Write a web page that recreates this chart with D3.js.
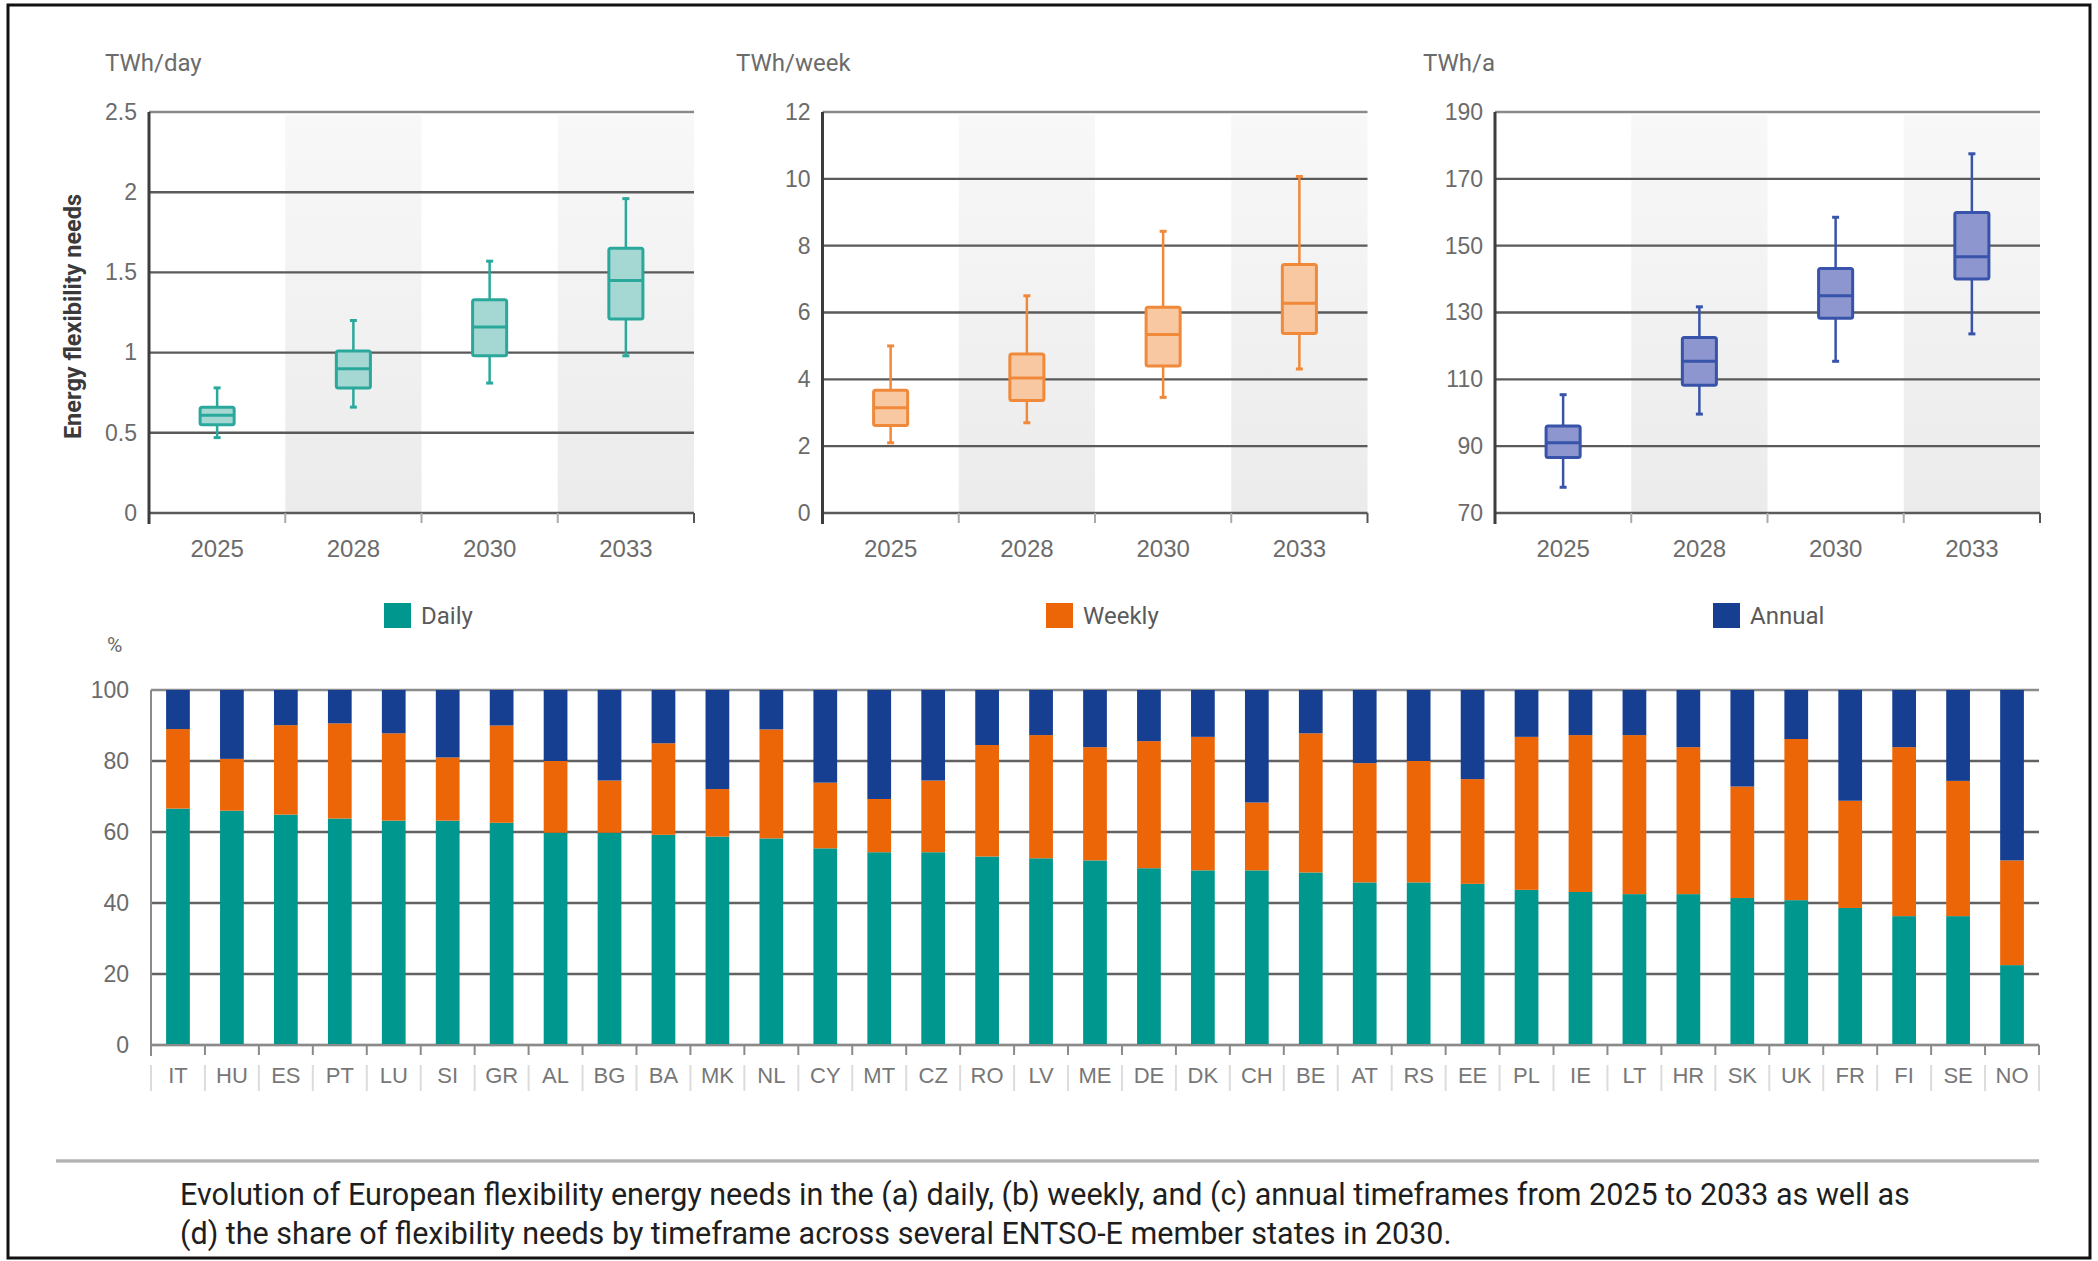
<!DOCTYPE html>
<html>
<head>
<meta charset="utf-8">
<script src="https://cdn.jsdelivr.net/npm/d3@7/dist/d3.min.js"></script>
<style>
  html, body { margin: 0; padding: 0; background: #fff; }
  svg { display: block; font-family: Roboto, "Noto Sans", sans-serif; }
</style>
</head>
<body>
<svg id="chart" width="2098" height="1261"></svg>
<script>
// ---- data -------------------------------------------------------------
const years = ["2025", "2028", "2030", "2033"];

// box statistics per year: [min, q1, median, q3, max]
const dailyStats = [
  [0.47, 0.55, 0.61, 0.66, 0.78],
  [0.66, 0.78, 0.90, 1.01, 1.20],
  [0.81, 0.98, 1.16, 1.33, 1.57],
  [0.98, 1.21, 1.45, 1.65, 1.96]
];
const weeklyStats = [
  [2.10, 2.62, 3.15, 3.67, 5.00],
  [2.70, 3.37, 4.04, 4.76, 6.50],
  [3.46, 4.40, 5.34, 6.16, 8.43],
  [4.31, 5.37, 6.28, 7.44, 10.07]
];
const annualStats = [
  [77.7, 86.6, 91.0, 96.0, 105.4],
  [99.6, 108.2, 115.4, 122.5, 131.7],
  [115.4, 128.3, 135.0, 143.2, 158.5],
  [123.6, 140.0, 146.7, 159.9, 177.5]
];

const dailyTicks = [0, 0.5, 1, 1.5, 2, 2.5];
const weeklyTicks = [0, 2, 4, 6, 8, 10, 12];
const annualTicks = [70, 90, 110, 130, 150, 170, 190];

const countries = ["IT","HU","ES","PT","LU","SI","GR","AL","BG","BA","MK","NL","CY","MT","CZ","RO","LV",
  "ME","DE","DK","CH","BE","AT","RS","EE","PL","IE","LT","HR","SK","UK","FR","FI","SE","NO"];
// share of flexibility needs by timeframe in 2030, %
const dailyShare  = [66.6,66.0,64.9,63.8,63.2,63.2,62.6,59.8,59.8,59.2,58.7,58.2,55.4,54.3,54.3,53.1,52.6,
  52.0,49.8,49.2,49.2,48.6,45.8,45.8,45.4,43.7,43.1,42.5,42.5,41.4,40.8,38.6,36.3,36.3,22.5];
const weeklyShare = [22.4,14.6,25.2,26.8,24.6,17.8,27.4,20.2,14.7,25.8,13.4,30.7,18.5,15.0,20.2,31.4,34.7,
  31.9,35.8,37.6,19.1,39.2,33.6,34.2,29.5,43.1,44.2,44.8,41.4,31.4,45.4,30.2,47.6,38.1,29.5];
const annualShare = [11.0,19.4,9.9,9.4,12.2,19.0,10.0,20.0,25.5,15.0,27.9,11.1,26.1,30.7,25.5,15.5,12.7,
  16.1,14.4,13.2,31.7,12.2,20.6,20.0,25.1,13.2,12.7,12.7,16.1,27.2,13.8,31.2,16.1,25.6,48.0];
const shareTicks = [0, 20, 40, 60, 80, 100];

const seriesNames = ["Daily", "Weekly", "Annual"];
const captionLines = [
  "Evolution of European flexibility energy needs in the (a) daily, (b) weekly, and (c) annual timeframes from 2025 to 2033 as well as",
  "(d) the share of flexibility needs by timeframe across several ENTSO-E member states in 2030."
];

// ---- styling ----------------------------------------------------------
const teal = "#00978f", orange = "#ec6608", navy = "#163f92";
const boxStyles = [
  { stroke: "#2ba89c", fill: "#a6d8d3" },
  { stroke: "#f0893a", fill: "#f8c8a2" },
  { stroke: "#3853aa", fill: "#8d96ce" }
];
const tickColor = "#6b6b6b";

const svg = d3.select("#chart");

// outer frame
svg.append("rect").attr("x", 8).attr("y", 5).attr("width", 2082).attr("height", 1253)
  .attr("fill", "#fff").attr("stroke", "#111").attr("stroke-width", 3);

const defs = svg.append("defs");
const grad = defs.append("linearGradient").attr("id", "bandShade")
  .attr("x1", 0).attr("y1", 0).attr("x2", 0).attr("y2", 1);
grad.append("stop").attr("offset", "0%").attr("stop-color", "#f8f8f8");
grad.append("stop").attr("offset", "100%").attr("stop-color", "#ebebeb");

const sepGrad = defs.append("linearGradient").attr("id", "sepShade")
  .attr("x1", 0).attr("y1", 0).attr("x2", 0).attr("y2", 1);
sepGrad.append("stop").attr("offset", "0%").attr("stop-color", "#d0d0d0");
sepGrad.append("stop").attr("offset", "50%").attr("stop-color", "#a8a8a8");
sepGrad.append("stop").attr("offset", "100%").attr("stop-color", "#d8d8d8");

// ---- box plot panels --------------------------------------------------
const panels = [
  { left: 149,   unit: "TWh/day",  unitX: 105,  stats: dailyStats,  ticks: dailyTicks,  fmt: d => String(d), style: boxStyles[0] },
  { left: 822.5, unit: "TWh/week", unitX: 736,  stats: weeklyStats, ticks: weeklyTicks, fmt: d => String(d), style: boxStyles[1] },
  { left: 1495,  unit: "TWh/a",    unitX: 1423, stats: annualStats, ticks: annualTicks, fmt: d => String(d), style: boxStyles[2] }
];
const panelW = 545, panelTop = 112, panelBottom = 513;

panels.forEach(p => {
  const g = svg.append("g").attr("transform", `translate(${p.left},0)`);
  const x = d3.scaleBand().domain(years).range([0, panelW]).padding(0);
  const y = d3.scaleLinear().domain(d3.extent(p.ticks)).range([panelBottom, panelTop]);

  // alternating shaded columns
  g.selectAll("rect.band").data(years.filter((d, i) => i % 2 === 1)).join("rect")
    .attr("class", "band")
    .attr("x", d => x(d)).attr("width", x.bandwidth())
    .attr("y", panelTop + 3).attr("height", panelBottom - panelTop - 3)
    .attr("fill", "url(#bandShade)");

  // horizontal grid
  g.selectAll("line.grid").data(p.ticks).join("line")
    .attr("class", "grid")
    .attr("x1", 0).attr("x2", panelW)
    .attr("y1", d => y(d)).attr("y2", d => y(d))
    .attr("stroke", (d, i) => i === p.ticks.length - 1 ? "#8a8a8a" : "#5a5a5a")
    .attr("stroke-width", 2.4);

  // category separators below the base line
  g.selectAll("line.sep").data(d3.range(1, years.length + 1)).join("line")
    .attr("class", "sep")
    .attr("x1", d => d * x.bandwidth()).attr("x2", d => d * x.bandwidth())
    .attr("y1", panelBottom).attr("y2", panelBottom + 10)
    .attr("stroke", (d, i) => i === years.length - 1 ? "#555" : "#aaa").attr("stroke-width", 2);

  // y axis
  const yAxis = d3.axisLeft(y).tickValues(p.ticks).tickFormat(p.fmt).tickSize(0).tickPadding(12);
  const ya = g.append("g").call(yAxis);
  ya.select(".domain").remove();
  ya.selectAll("text").attr("fill", tickColor).style("font-size", "23px");
  g.append("line").attr("x1", 0).attr("x2", 0).attr("y1", panelTop).attr("y2", panelBottom + 11)
    .attr("stroke", "#3d3d3d").attr("stroke-width", 3);

  // x axis labels
  const xAxis = d3.axisBottom(x).tickSize(0).tickPadding(27);
  const xa = g.append("g").attr("transform", `translate(0,${panelBottom})`).call(xAxis);
  xa.select(".domain").remove();
  xa.selectAll("text").attr("fill", tickColor).style("font-size", "24px");

  // unit label
  svg.append("text").attr("x", p.unitX).attr("y", 71).text(p.unit)
    .attr("fill", tickColor).style("font-size", "24px");

  // boxes
  const boxW = x.bandwidth() * 0.25;
  const capW = 7;
  const bx = g.selectAll("g.box").data(p.stats.map((s, i) => ({ year: years[i], s }))).join("g")
    .attr("class", "box")
    .attr("transform", d => `translate(${x(d.year) + x.bandwidth() / 2},0)`);
  bx.append("line").attr("x1", 0).attr("x2", 0)
    .attr("y1", d => y(d.s[4])).attr("y2", d => y(d.s[0]))
    .attr("stroke", p.style.stroke).attr("stroke-width", 2.5);
  bx.selectAll("line.cap").data(d => [d.s[0], d.s[4]]).join("line").attr("class", "cap")
    .attr("x1", -capW / 2).attr("x2", capW / 2)
    .attr("y1", d => y(d)).attr("y2", d => y(d))
    .attr("stroke", p.style.stroke).attr("stroke-width", 3);
  bx.append("rect").attr("x", -boxW / 2).attr("width", boxW)
    .attr("y", d => y(d.s[3])).attr("height", d => y(d.s[1]) - y(d.s[3]))
    .attr("rx", 2)
    .attr("fill", p.style.fill).attr("stroke", p.style.stroke).attr("stroke-width", 3);
  bx.append("line").attr("x1", -boxW / 2).attr("x2", boxW / 2)
    .attr("y1", d => y(d.s[2])).attr("y2", d => y(d.s[2]))
    .attr("stroke", p.style.stroke).attr("stroke-width", 3);
});

// y axis title of the first panel
svg.append("text")
  .attr("transform", `translate(81,${(panelTop + panelBottom) / 2 + 4}) rotate(-90)`)
  .attr("text-anchor", "middle")
  .attr("fill", "#3a3a3a").style("font-size", "23.5px").style("font-weight", "700")
  .text("Energy flexibility needs");

// ---- legend -----------------------------------------------------------
const legendX = [384, 1046, 1713];
const legendColors = [teal, orange, navy];
seriesNames.forEach((name, i) => {
  svg.append("rect").attr("x", legendX[i]).attr("y", 603).attr("width", 27).attr("height", 25)
    .attr("fill", legendColors[i]);
  svg.append("text").attr("x", legendX[i] + 37).attr("y", 624).text(name)
    .attr("fill", "#5a5a5a").style("font-size", "24px");
});

// ---- stacked share chart ---------------------------------------------
const sLeft = 151, sRight = 2039, sTop = 690, sBottom = 1045;
const xs = d3.scaleBand().domain(countries).range([sLeft, sRight]).paddingInner(0.56).paddingOuter(0.28);
const ys = d3.scaleLinear().domain([0, 100]).range([sBottom, sTop]);
const bandStart = i => sLeft + i * (sRight - sLeft) / countries.length;

svg.append("text").attr("x", 107).attr("y", 652).text("%")
  .attr("fill", tickColor).style("font-size", "21px");

svg.append("g").selectAll("line").data(shareTicks).join("line")
  .attr("x1", sLeft).attr("x2", sRight)
  .attr("y1", d => ys(d)).attr("y2", d => ys(d))
  .attr("stroke", d => d === 100 ? "#8c8c8c" : "#626262").attr("stroke-width", 2.4);

const ysAxis = svg.append("g").attr("transform", `translate(${sLeft},0)`)
  .call(d3.axisLeft(ys).tickValues(shareTicks).tickSize(0).tickPadding(22));
ysAxis.select(".domain").remove();
ysAxis.selectAll("text").attr("fill", tickColor).style("font-size", "23px");
svg.append("line").attr("x1", sLeft).attr("x2", sLeft).attr("y1", sTop).attr("y2", sBottom + 11)
  .attr("stroke", "#8a8a8a").attr("stroke-width", 2);

const rows = countries.map((c, i) => ({ country: c, Daily: dailyShare[i], Weekly: weeklyShare[i], Annual: annualShare[i] }));
const stacked = d3.stack().keys(seriesNames)(rows);
const color = d3.scaleOrdinal().domain(seriesNames).range([teal, orange, navy]);

svg.append("g").selectAll("g").data(stacked).join("g")
  .attr("fill", d => color(d.key))
  .selectAll("rect").data(d => d).join("rect")
  .attr("x", d => xs(d.data.country))
  .attr("width", xs.bandwidth())
  .attr("y", d => ys(Math.min(d[1], 100)))
  .attr("height", d => ys(d[0]) - ys(Math.min(d[1], 100)));

// tick marks below the base line and label dividers
const bounds = d3.range(0, countries.length + 1);
svg.append("g").selectAll("line").data(bounds).join("line")
  .attr("x1", d => bandStart(d)).attr("x2", d => bandStart(d))
  .attr("y1", sBottom).attr("y2", sBottom + 10)
  .attr("stroke", "#8a8a8a").attr("stroke-width", 2);
svg.append("g").selectAll("line").data(bounds).join("line")
  .attr("x1", d => bandStart(d)).attr("x2", d => bandStart(d))
  .attr("y1", sBottom + 20).attr("y2", sBottom + 46)
  .attr("stroke", "#dcdcdc").attr("stroke-width", 2);

const xsAxis = svg.append("g").attr("transform", `translate(0,${sBottom})`)
  .call(d3.axisBottom(xs).tickSize(0).tickPadding(22));
xsAxis.select(".domain").remove();
xsAxis.selectAll("text").attr("fill", "#777").style("font-size", "22px");
svg.append("line").attr("x1", sLeft).attr("x2", sRight).attr("y1", sBottom).attr("y2", sBottom)
  .attr("stroke", "#8a8a8a").attr("stroke-width", 2.2);

// ---- caption ----------------------------------------------------------
svg.append("rect").attr("x", 56).attr("y", 1159).attr("width", sRight - 56).attr("height", 4)
  .attr("fill", "url(#sepShade)");

svg.append("g").selectAll("text").data(captionLines).join("text")
  .attr("x", 180).attr("y", (d, i) => 1205 + i * 39)
  .attr("fill", "#1e1e1e").style("font-size", "30.5px")
  .text(d => d);
</script>
</body>
</html>
